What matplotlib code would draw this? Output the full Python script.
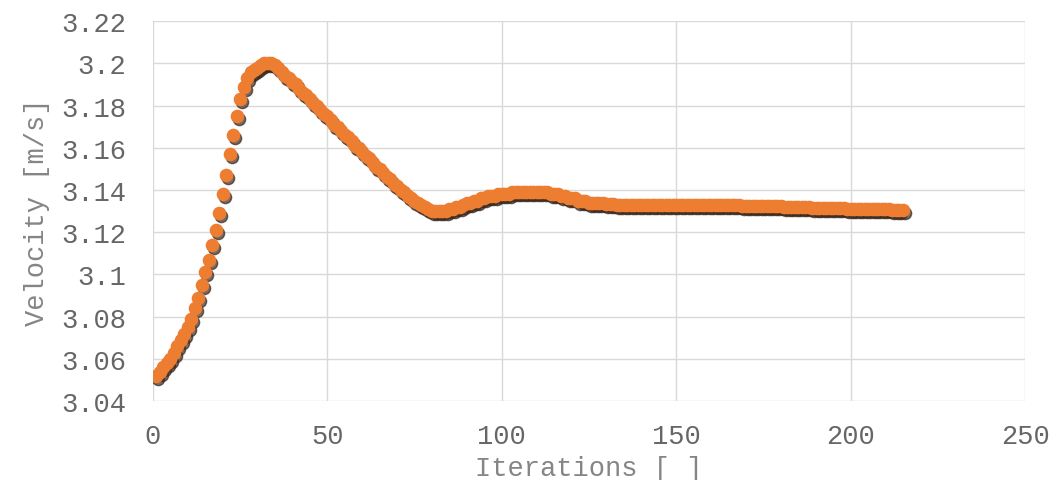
import numpy as np
import matplotlib
matplotlib.use('Agg')
import matplotlib.pyplot as plt
import matplotlib.transforms as mtransforms

# iteration number and velocity
iterations = np.arange(1, 216)
velocity = [
    3.052, 3.054, 3.056, 3.058, 3.060, 3.063, 3.066, 3.069, 3.072, 3.075,
    3.079, 3.084, 3.089, 3.095, 3.101, 3.107, 3.114, 3.121, 3.129, 3.138,
    3.147, 3.157, 3.166, 3.175, 3.183, 3.189, 3.193, 3.196, 3.197, 3.198,
    3.199, 3.200, 3.200, 3.200, 3.199, 3.198, 3.196, 3.194, 3.193, 3.191,
    3.190, 3.188, 3.186, 3.185, 3.183, 3.181, 3.180, 3.178, 3.176, 3.175,
    3.173, 3.171, 3.170, 3.168, 3.166, 3.165, 3.163, 3.161, 3.160, 3.158,
    3.156, 3.155, 3.153, 3.151, 3.150, 3.148, 3.146, 3.145, 3.143, 3.142,
    3.140, 3.139, 3.137, 3.136, 3.135, 3.134, 3.133, 3.132, 3.131, 3.130,
    3.130, 3.130, 3.130, 3.130, 3.131, 3.131, 3.132, 3.132, 3.133, 3.134,
    3.134, 3.135, 3.135, 3.136, 3.136, 3.137, 3.137, 3.137, 3.138, 3.138,
    3.138, 3.138, 3.139, 3.139, 3.139, 3.139, 3.139, 3.139, 3.139, 3.139,
    3.139, 3.139, 3.139, 3.138, 3.138, 3.138, 3.137, 3.137, 3.136, 3.136,
    3.136, 3.135, 3.135, 3.135, 3.134, 3.134, 3.134, 3.134, 3.134, 3.1335,
    3.1333, 3.1332, 3.1331, 3.1330, 3.1330, 3.1330, 3.1330, 3.1330, 3.1330, 3.1330,
    3.1330, 3.1330, 3.1330, 3.1330, 3.1330, 3.1330, 3.1330, 3.1330, 3.1330, 3.1330,
    3.1330, 3.1330, 3.1329, 3.1329, 3.1329, 3.1329, 3.1329, 3.1329, 3.1328, 3.1328,
    3.1328, 3.1328, 3.1328, 3.1328, 3.1327, 3.1327, 3.1327, 3.1327, 3.1326, 3.1326,
    3.1326, 3.1325, 3.1325, 3.1325, 3.1324, 3.1324, 3.1323, 3.1323, 3.1322, 3.1322,
    3.1321, 3.1321, 3.1320, 3.1320, 3.1319, 3.1319, 3.1318, 3.1318, 3.1317, 3.1317,
    3.1316, 3.1316, 3.1315, 3.1315, 3.1314, 3.1314, 3.1313, 3.1313, 3.1312, 3.1312,
    3.1311, 3.1311, 3.1310, 3.1310, 3.1310, 3.1309, 3.1309, 3.1309, 3.1308, 3.1308,
    3.1308, 3.1307, 3.1307, 3.1307, 3.1306,
]
x_ticks = [0, 50, 100, 150, 200, 250]
y_ticks = [3.04, 3.06, 3.08, 3.1, 3.12, 3.14, 3.16, 3.18, 3.2, 3.22]
y_tick_labels = ['3.04', '3.06', '3.08', '3.1', '3.12', '3.14', '3.16', '3.18', '3.2', '3.22']

plt.rcParams['font.family'] = ['Liberation Mono', 'DejaVu Sans Mono']

fig = plt.figure(figsize=(10.54, 4.81), dpi=100)
ax = fig.add_axes([0.145, 0.164, 0.8275, 0.79])

orange = '#ED7D31'
# dark drop shadow under the markers
shadow_tr = mtransforms.offset_copy(ax.transData, fig=fig, x=2, y=-3, units='dots')
ax.plot(iterations, velocity, 'o', ms=8.8, color='#3b2a1f', mec='#3b2a1f',
        alpha=0.7, transform=shadow_tr, zorder=2)
ax.plot(iterations, velocity, 'o', ms=8.8, color=orange, mec=orange, zorder=3)

ax.set_xlim(0, 250)
ax.set_ylim(3.04, 3.22)
ax.set_xticks(x_ticks)
ax.set_yticks(y_ticks)
ax.set_yticklabels(y_tick_labels)
ax.grid(True, color='#d9d9d9', lw=1)
ax.set_axisbelow(True)
for s in ax.spines.values():
    s.set_visible(False)
ax.tick_params(length=0, labelsize=19.5, labelcolor='#666666', pad=19)
ax.tick_params(axis='x', pad=16)

ax.set_xlabel('Iterations [ ]', fontsize=19.5, color='#858585', labelpad=4)
ax.set_ylabel('Velocity [m/s]', fontsize=19.5, color='#858585', labelpad=8)

fig.savefig('out.png', dpi=100)
